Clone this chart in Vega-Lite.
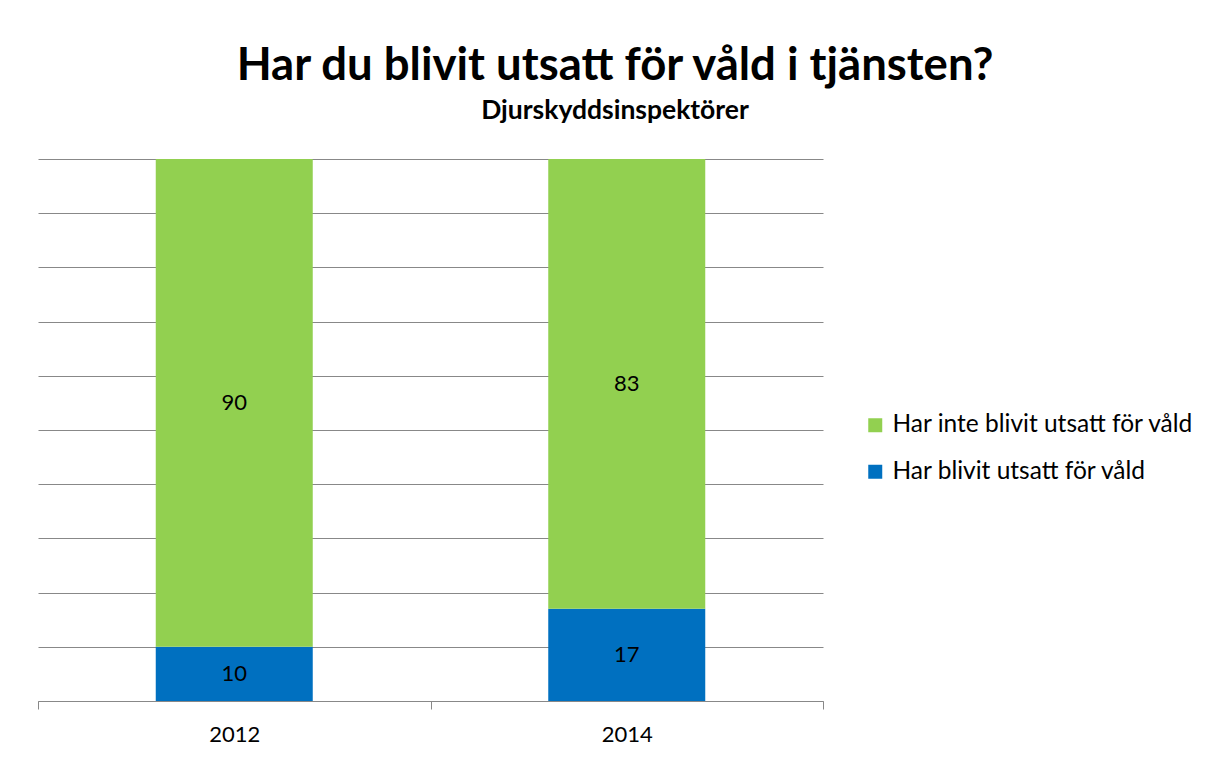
{
  "$schema": "https://vega.github.io/schema/vega-lite/v6.json",
  "width": 785,
  "height": 542,
  "autosize": "none",
  "padding": {"left": 38, "top": 159, "right": 385, "bottom": 59},
  "background": "white",
  "config": {"view": {"stroke": null}},
  "title": {
    "text": "Har du blivit utsatt för våld i tjänsten?",
    "subtitle": "Djurskyddsinspektörer",
    "anchor": "middle",
    "dx": 184.5,
    "offset": 35,
    "font": "Lato",
    "fontSize": 45.5,
    "fontWeight": "bold",
    "color": "black",
    "subtitleFont": "Lato",
    "subtitleFontSize": 26.5,
    "subtitleFontWeight": "bold",
    "subtitleColor": "black",
    "subtitlePadding": 8
  },
  "data": {
    "values": [
      {"year": "2012", "category": "Har blivit utsatt för våld", "value": 10, "order": 1},
      {"year": "2012", "category": "Har inte blivit utsatt för våld", "value": 90, "order": 2},
      {"year": "2014", "category": "Har blivit utsatt för våld", "value": 17, "order": 1},
      {"year": "2014", "category": "Har inte blivit utsatt för våld", "value": 83, "order": 2}
    ]
  },
  "encoding": {
    "x": {
      "field": "year",
      "type": "nominal",
      "scale": {"paddingInner": 0, "paddingOuter": 0},
      "axis": {
        "title": null,
        "labelAngle": 0,
        "domainColor": "#888888",
        "tickColor": "#888888",
        "tickBand": "extent",
        "tickSize": 8,
        "labelFont": "Lato",
        "labelFontSize": 22,
        "labelColor": "black",
        "labelPadding": 15,
        "grid": false
      }
    },
    "order": {"field": "order", "type": "quantitative"}
  },
  "layer": [
    {
      "mark": {"type": "bar", "width": {"band": 0.4}},
      "encoding": {
        "y": {
          "field": "value",
          "type": "quantitative",
          "stack": "zero",
          "scale": {"domain": [0, 100], "nice": false},
          "axis": {
            "title": null,
            "labels": false,
            "ticks": false,
            "domain": false,
            "grid": true,
            "gridColor": "#888888",
            "values": [0, 10, 20, 30, 40, 50, 60, 70, 80, 90, 100]
          }
        },
        "color": {
          "field": "category",
          "type": "nominal",
          "scale": {
            "domain": ["Har inte blivit utsatt för våld", "Har blivit utsatt för våld"],
            "range": ["#92D050", "#0070C0"]
          },
          "legend": {
            "title": null,
            "orient": "none",
            "legendX": 825,
            "legendY": 254,
            "symbolType": "square",
            "symbolSize": 196,
            "symbolStrokeWidth": 0,
            "labelFont": "Lato",
            "labelFontSize": 24.5,
            "labelColor": "black",
            "labelOffset": 5,
            "labelLimit": 0,
            "rowPadding": 21.5
          }
        }
      }
    },
    {
      "mark": {"type": "text", "font": "Lato", "fontSize": 22, "color": "black", "baseline": "middle"},
      "encoding": {
        "y": {"field": "value", "type": "quantitative", "stack": "zero", "bandPosition": 0.5},
        "detail": {"field": "category"},
        "text": {"field": "value", "type": "quantitative"}
      }
    }
  ]
}
